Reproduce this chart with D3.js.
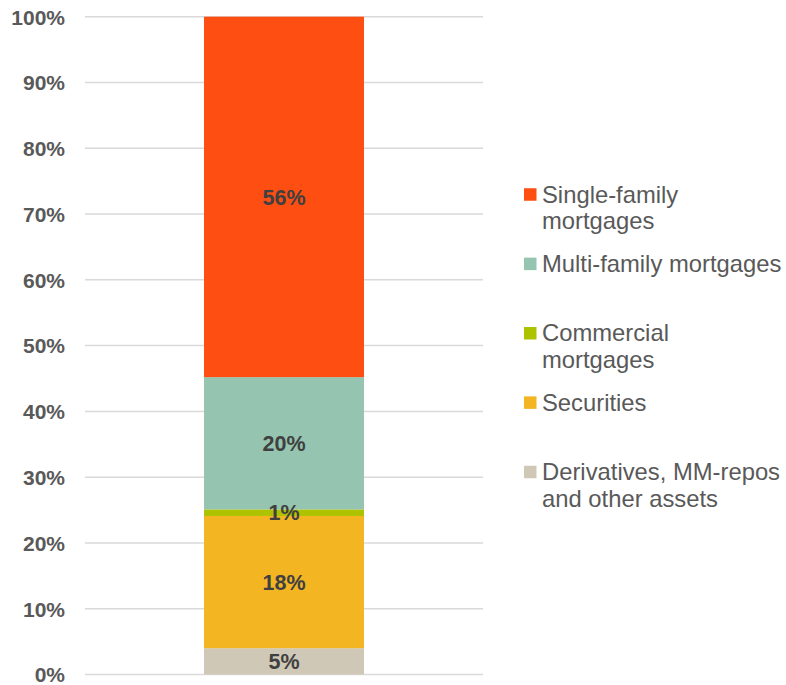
<!DOCTYPE html>
<html>
<head>
<meta charset="utf-8">
<script src="https://cdn.jsdelivr.net/npm/d3@7"></script>
<style>
  html, body { margin: 0; padding: 0; background: #fff; }
  svg { display: block; font-family: "Liberation Sans", Arial, sans-serif; }
</style>
</head>
<body>
<svg id="chart" width="786" height="685"></svg>
<script>
// Data (bottom to top)
const categories = ["Derivatives, MM-repos and other assets", "Securities", "Commercial mortgages", "Multi-family mortgages", "Single-family mortgages"];
const values = [4.0, 20.1, 1.0, 20.1, 54.8];
const valueLabels = ["5%", "18%", "1%", "20%", "56%"];
const colors = ["#D0C8B6", "#F4B523", "#AEC300", "#95C4B0", "#FF4E12"];
const legendOrder = ["Single-family mortgages", "Multi-family mortgages", "Commercial mortgages", "Securities", "Derivatives, MM-repos and other assets"];
const legendLines = [["Single-family", "mortgages"], ["Multi-family mortgages"], ["Commercial", "mortgages"], ["Securities"], ["Derivatives, MM-repos", "and other assets"]];
const tickValues = [0, 10, 20, 30, 40, 50, 60, 70, 80, 90, 100];

const svg = d3.select("#chart");
const y = d3.scaleLinear().domain([0, 100]).range([674.5, 16.7]);
const x = d3.scaleBand().domain(["Assets"]).range([85, 483]).paddingInner(0).paddingOuter(0.744);

// gridlines
svg.append("g").selectAll("line").data(tickValues).join("line")
  .attr("x1", 85).attr("x2", 483)
  .attr("y1", d => y(d)).attr("y2", d => y(d))
  .attr("stroke", "#D9D9D9").attr("stroke-width", 1.5);

// y axis labels
const yAxis = d3.axisLeft(y).tickValues(tickValues).tickFormat(d => d + "%").tickSize(0).tickPadding(0);
const ag = svg.append("g").attr("transform", "translate(65,0)").call(yAxis);
ag.attr("font-family", null).attr("font-size", null);
ag.select(".domain").remove();
ag.selectAll("text").attr("fill", "#595959").attr("font-size", 21).attr("font-weight", "bold")
  .attr("dy", "0.35em");

// stacked segments
let cum = 0;
const segs = values.map((v, i) => { const s = { cat: categories[i], y0: cum, y1: cum + v, label: valueLabels[i], color: colors[i] }; cum += v; return s; });

svg.append("g").selectAll("rect").data(segs).join("rect")
  .attr("x", x("Assets")).attr("width", x.bandwidth())
  .attr("y", d => y(d.y1)).attr("height", d => y(d.y0) - y(d.y1))
  .attr("fill", d => d.color);

svg.append("g").selectAll("text").data(segs).join("text")
  .attr("x", x("Assets") + x.bandwidth() / 2)
  .attr("y", d => (y(d.y0) + y(d.y1)) / 2)
  .attr("dy", "0.36em")
  .attr("text-anchor", "middle")
  .attr("font-size", 21.5).attr("font-weight", "bold").attr("fill", "#404040")
  .text(d => d.label);

// legend
const legY = d3.scalePoint().domain(legendOrder).range([194.5, 472]);
const leg = svg.append("g").selectAll("g").data(legendOrder).join("g")
  .attr("transform", d => `translate(524,${legY(d)})`);
leg.append("rect").attr("x", 0).attr("y", -6.25).attr("width", 12.5).attr("height", 12.5)
  .attr("fill", d => colors[categories.indexOf(d)]);
leg.append("text").attr("x", 18).attr("y", 8).attr("font-size", 23.8).attr("fill", "#595959")
  .selectAll("tspan").data((d, i) => legendLines[i]).join("tspan")
  .attr("x", 18).attr("dy", (d, i) => i === 0 ? 0 : 26.7).text(d => d);
</script>
</body>
</html>
